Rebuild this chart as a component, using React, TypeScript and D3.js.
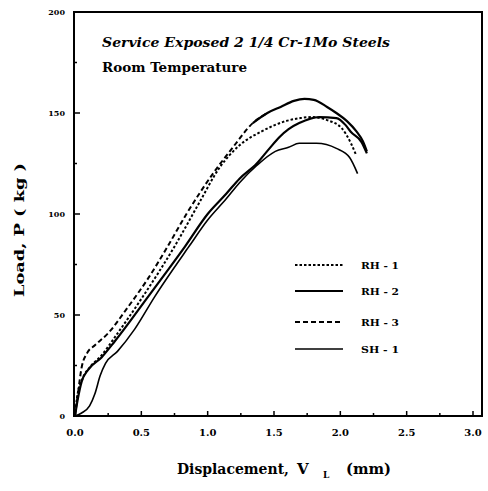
import React from 'react';
import * as d3 from 'd3';

// displacement (mm) / load (kg)
const rh1X = [0, 0.015, 0.06, 0.11, 0.2, 0.3, 0.49, 0.76, 0.94, 1.09, 1.24, 1.41, 1.59, 1.7, 1.79, 1.9, 2.01, 2.08, 2.12];
const rh1Y = [0, 9, 19, 24, 30, 39, 57, 85, 106, 123, 134, 141, 146, 147.5, 148, 146.5, 142.5, 135, 129];

const rh2X = [0, 0.02, 0.05, 0.1, 0.2, 0.3, 0.55, 0.83, 1.0, 1.14, 1.24, 1.37, 1.46, 1.54, 1.61, 1.69, 1.84, 1.97, 2.04, 2.08, 2.16, 2.2];
const rh2Y = [0, 8, 17, 23, 29, 37, 59, 84, 100, 110, 117.5, 125, 132, 138, 142, 145, 148, 147.5, 144, 140.6, 135.6, 130];

const rh3X = [0, 0.02, 0.05, 0.09, 0.15, 0.25, 0.4, 0.55, 0.69, 0.84, 1.04, 1.19, 1.34, 1.45, 1.55, 1.65, 1.73, 1.8, 1.9, 1.97, 2.05, 2.12, 2.17, 2.2];
const rh3Y = [0, 10, 24, 31, 35, 41, 54, 68, 83, 100, 120, 133, 145, 150, 153, 156, 157, 156.5, 153, 150, 146, 141, 136, 131];

const sh1X = [0, 0.05, 0.11, 0.15, 0.19, 0.23, 0.32, 0.45, 0.6, 0.86, 1.0, 1.14, 1.24, 1.37, 1.51, 1.61, 1.69, 1.82, 1.97, 2.07, 2.13];
const sh1Y = [0, 1.5, 5, 11, 20, 26, 32, 43, 59, 84, 97, 107.5, 115.5, 124, 131, 133, 135, 135, 132.5, 128, 120];

const xTicks = [0, 0.5, 1.0, 1.5, 2.0, 2.5, 3.0];
const xMinor = [0.25, 0.75, 1.25, 1.75, 2.25, 2.75];
const yTicks = [0, 50, 100, 150, 200];
const yMinor = [25, 75, 125, 175];

const legendNames = ['RH - 1', 'RH - 2', 'RH - 3', 'SH - 1'];

const font = '"DejaVu Serif", "Liberation Serif", serif';

type Pt = [number, number];
const zip = (xs: number[], ys: number[]): Pt[] => xs.map((x, i) => [x, ys[i]]);

export default function App() {
  const W = 488, H = 491;
  const box = { left: 74, right: 482, top: 12, bottom: 416 };

  const x = d3.scaleLinear().domain([0, 3]).range([75, 473]);
  const y = d3.scaleLinear().domain([0, 200]).range([416, 12]);

  const line = d3.line<Pt>()
    .x(d => x(d[0]))
    .y(d => y(d[1]))
    .curve(d3.curveMonotoneX);

  const rh3 = zip(rh3X, rh3Y);
  const rh3Dashed = rh3.filter(d => d[0] <= 1.45);
  const rh3Solid = rh3.filter(d => d[0] >= 1.34);

  const styles = [
    { dash: '2.5,2', w: 2 },
    { dash: undefined, w: 2.2 },
    { dash: '5,3', w: 2 },
    { dash: undefined, w: 1.6 },
  ];

  const legendY = [265, 291, 322, 349];

  return (
    <svg width={W} height={H} style={{ position: 'absolute', left: 0, top: 0, background: '#fff' }}
         fontFamily={font} fontWeight="bold">
      <rect x={0} y={0} width={W} height={H} fill="#fff" />
      <rect x={box.left} y={box.top} width={box.right - box.left} height={box.bottom - box.top}
            fill="none" stroke="#000" strokeWidth={2} />

      {/* ticks */}
      {xTicks.map(t => (
        <g key={'xt' + t}>
          <line x1={x(t)} x2={x(t)} y1={box.bottom} y2={box.bottom - 5} stroke="#000" strokeWidth={1.5} />
          <text x={x(t)} y={436} textAnchor="middle" fontSize={10}>{t.toFixed(1)}</text>
        </g>
      ))}
      {xMinor.map(t => (
        <line key={'xm' + t} x1={x(t)} x2={x(t)} y1={box.bottom} y2={box.bottom - 3} stroke="#000" strokeWidth={1.5} />
      ))}
      {yTicks.map(t => (
        <g key={'yt' + t}>
          <line x1={box.left} x2={box.left + 6} y1={y(t)} y2={y(t)} stroke="#000" strokeWidth={1.5} />
          <text x={65} y={y(t) + 3} textAnchor="end" fontSize={8}>{t}</text>
        </g>
      ))}
      {yMinor.map(t => (
        <line key={'ym' + t} x1={box.left} x2={box.left + 3} y1={y(t)} y2={y(t)} stroke="#000" strokeWidth={1.5} />
      ))}

      {/* curves */}
      <path d={line(zip(rh1X, rh1Y)) ?? ''} fill="none" stroke="#000" strokeWidth={styles[0].w} strokeDasharray={styles[0].dash} />
      <path d={line(zip(rh2X, rh2Y)) ?? ''} fill="none" stroke="#000" strokeWidth={styles[1].w} />
      <path d={line(rh3Dashed) ?? ''} fill="none" stroke="#000" strokeWidth={styles[2].w} strokeDasharray={styles[2].dash} />
      <path d={line(rh3Solid) ?? ''} fill="none" stroke="#000" strokeWidth={2.2} />
      <path d={line(zip(sh1X, sh1Y)) ?? ''} fill="none" stroke="#000" strokeWidth={styles[3].w} />

      {/* annotation */}
      <text x={102} y={47} fontSize={13} fontStyle="italic" textLength={288} lengthAdjust="spacingAndGlyphs">
        Service Exposed 2 1/4 Cr-1Mo Steels
      </text>
      <text x={102} y={72} fontSize={13} textLength={145} lengthAdjust="spacingAndGlyphs">Room Temperature</text>

      {/* legend */}
      {legendNames.map((n, i) => (
        <g key={n}>
          <line x1={295} x2={343} y1={legendY[i]} y2={legendY[i]} stroke="#000"
                strokeWidth={styles[i].w} strokeDasharray={styles[i].dash} />
          <text x={361} y={legendY[i] + 4} fontSize={10} textLength={38} lengthAdjust="spacingAndGlyphs">{n}</text>
        </g>
      ))}

      {/* axis titles */}
      <text transform="translate(24,230) rotate(-90)" textAnchor="middle" fontSize={13}
            textLength={134} lengthAdjust="spacingAndGlyphs">Load, P ( kg )</text>
      <g fontSize={15}>
        <text x={177} y={474} textLength={112} lengthAdjust="spacingAndGlyphs">Displacement,</text>
        <text x={297} y={474}>V</text>
        <text x={323} y={478} fontSize={9}>L</text>
        <text x={346} y={474} textLength={45} lengthAdjust="spacingAndGlyphs">(mm)</text>
      </g>
    </svg>
  );
}
